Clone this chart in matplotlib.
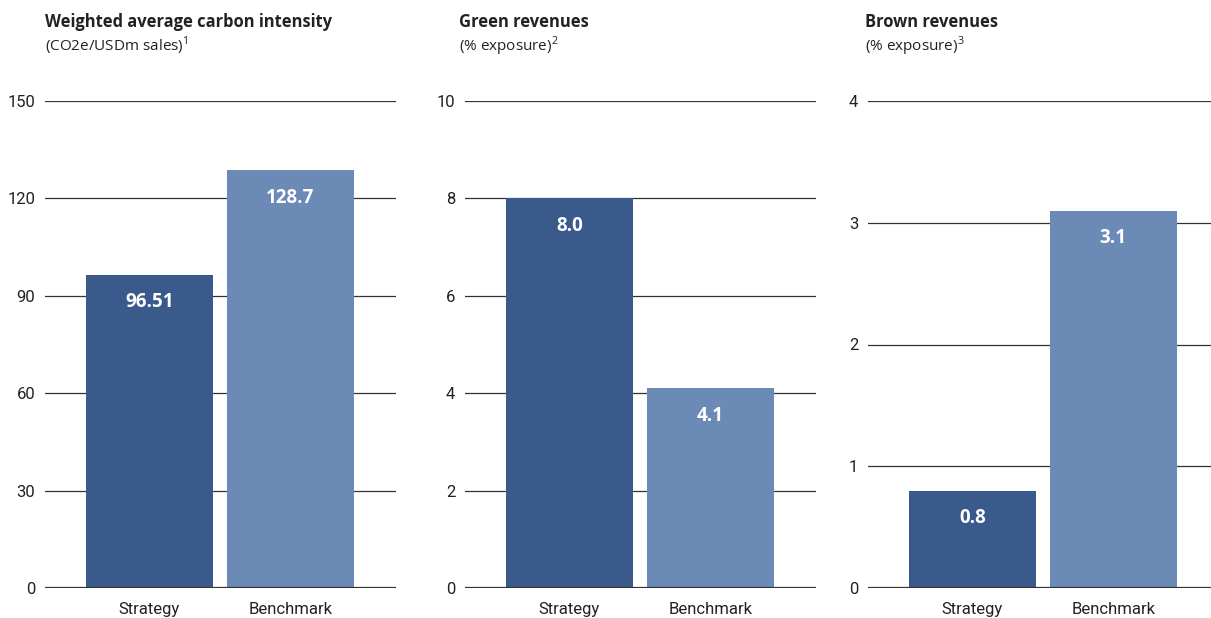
import matplotlib.pyplot as plt
from matplotlib.ticker import MultipleLocator

# data
categories = ['Strategy', 'Benchmark']
titles = ['Weighted average carbon intensity', 'Green revenues', 'Brown revenues']
subtitles = ['(CO2e/USDm sales)$^1$', '(% exposure)$^2$', '(% exposure)$^3$']
carbon_values = [96.51, 128.7]
green_values = [8.0, 4.1]
brown_values = [0.8, 3.1]
value_labels = [['96.51', '128.7'], ['8.0', '4.1'], ['0.8', '3.1']]
y_max = [150, 10, 4]
y_step = [30, 2, 1]

DARK = '#3b5a8c'
LIGHT = '#6b8ab6'
TEXT = '#222222'

plt.rcParams['font.family'] = ['Roboto', 'DejaVu Sans']
plt.rcParams['mathtext.fontset'] = 'custom'
plt.rcParams['mathtext.rm'] = 'Open Sans'


def main():
    fig = plt.figure(figsize=(12.11, 6.18), dpi=100)
    W, H = 1211, 618
    lefts = [45, 465, 868]
    width = 351
    bottom, top = 588, 101
    series = [carbon_values, green_values, brown_values]
    title_x = [45, 459, 865]

    for i in range(3):
        ax = fig.add_axes([lefts[i] / W, 1 - bottom / H, width / W, (bottom - top) / H])
        ax.set_axisbelow(True)
        ax.bar([0, 1], series[i], width=0.9, color=[DARK, LIGHT], zorder=3)
        ax.set_xlim(-0.74, 1.75)
        ax.set_ylim(0, y_max[i])
        ax.yaxis.set_major_locator(MultipleLocator(y_step[i]))
        ax.grid(axis='y', color='#333333', linewidth=0.9)
        ax.axhline(0, color='#333333', linewidth=1.6, zorder=4)
        for s in ax.spines.values():
            s.set_visible(False)
        ax.tick_params(axis='y', length=0, pad=7, labelsize=12, labelcolor=TEXT)
        ax.tick_params(axis='x', length=0, pad=10, labelsize=12, labelcolor=TEXT)
        ax.set_xticks([0, 1])
        ax.set_xticklabels(categories)
        for j, v in enumerate(series[i]):
            ax.annotate(value_labels[i][j], (j, v), xytext=(0, -20),
                        textcoords='offset points', ha='center', va='center',
                        color='white', fontsize=13.5, fontweight='bold',
                        family=['Open Sans', 'DejaVu Sans'], zorder=5)
        fig.text(title_x[i] / W, 1 - 22 / H, titles[i], ha='left', va='center',
                 fontsize=11.9, fontweight='bold', color=TEXT,
                 family=['Open Sans', 'DejaVu Sans'])
        fig.text(title_x[i] / W, 1 - 46 / H, subtitles[i], ha='left', va='center',
                 fontsize=11, fontweight='normal', color=TEXT,
                 family=['Open Sans', 'DejaVu Sans'])

    fig.savefig('out.png', dpi=100)


if __name__ == '__main__':
    main()
